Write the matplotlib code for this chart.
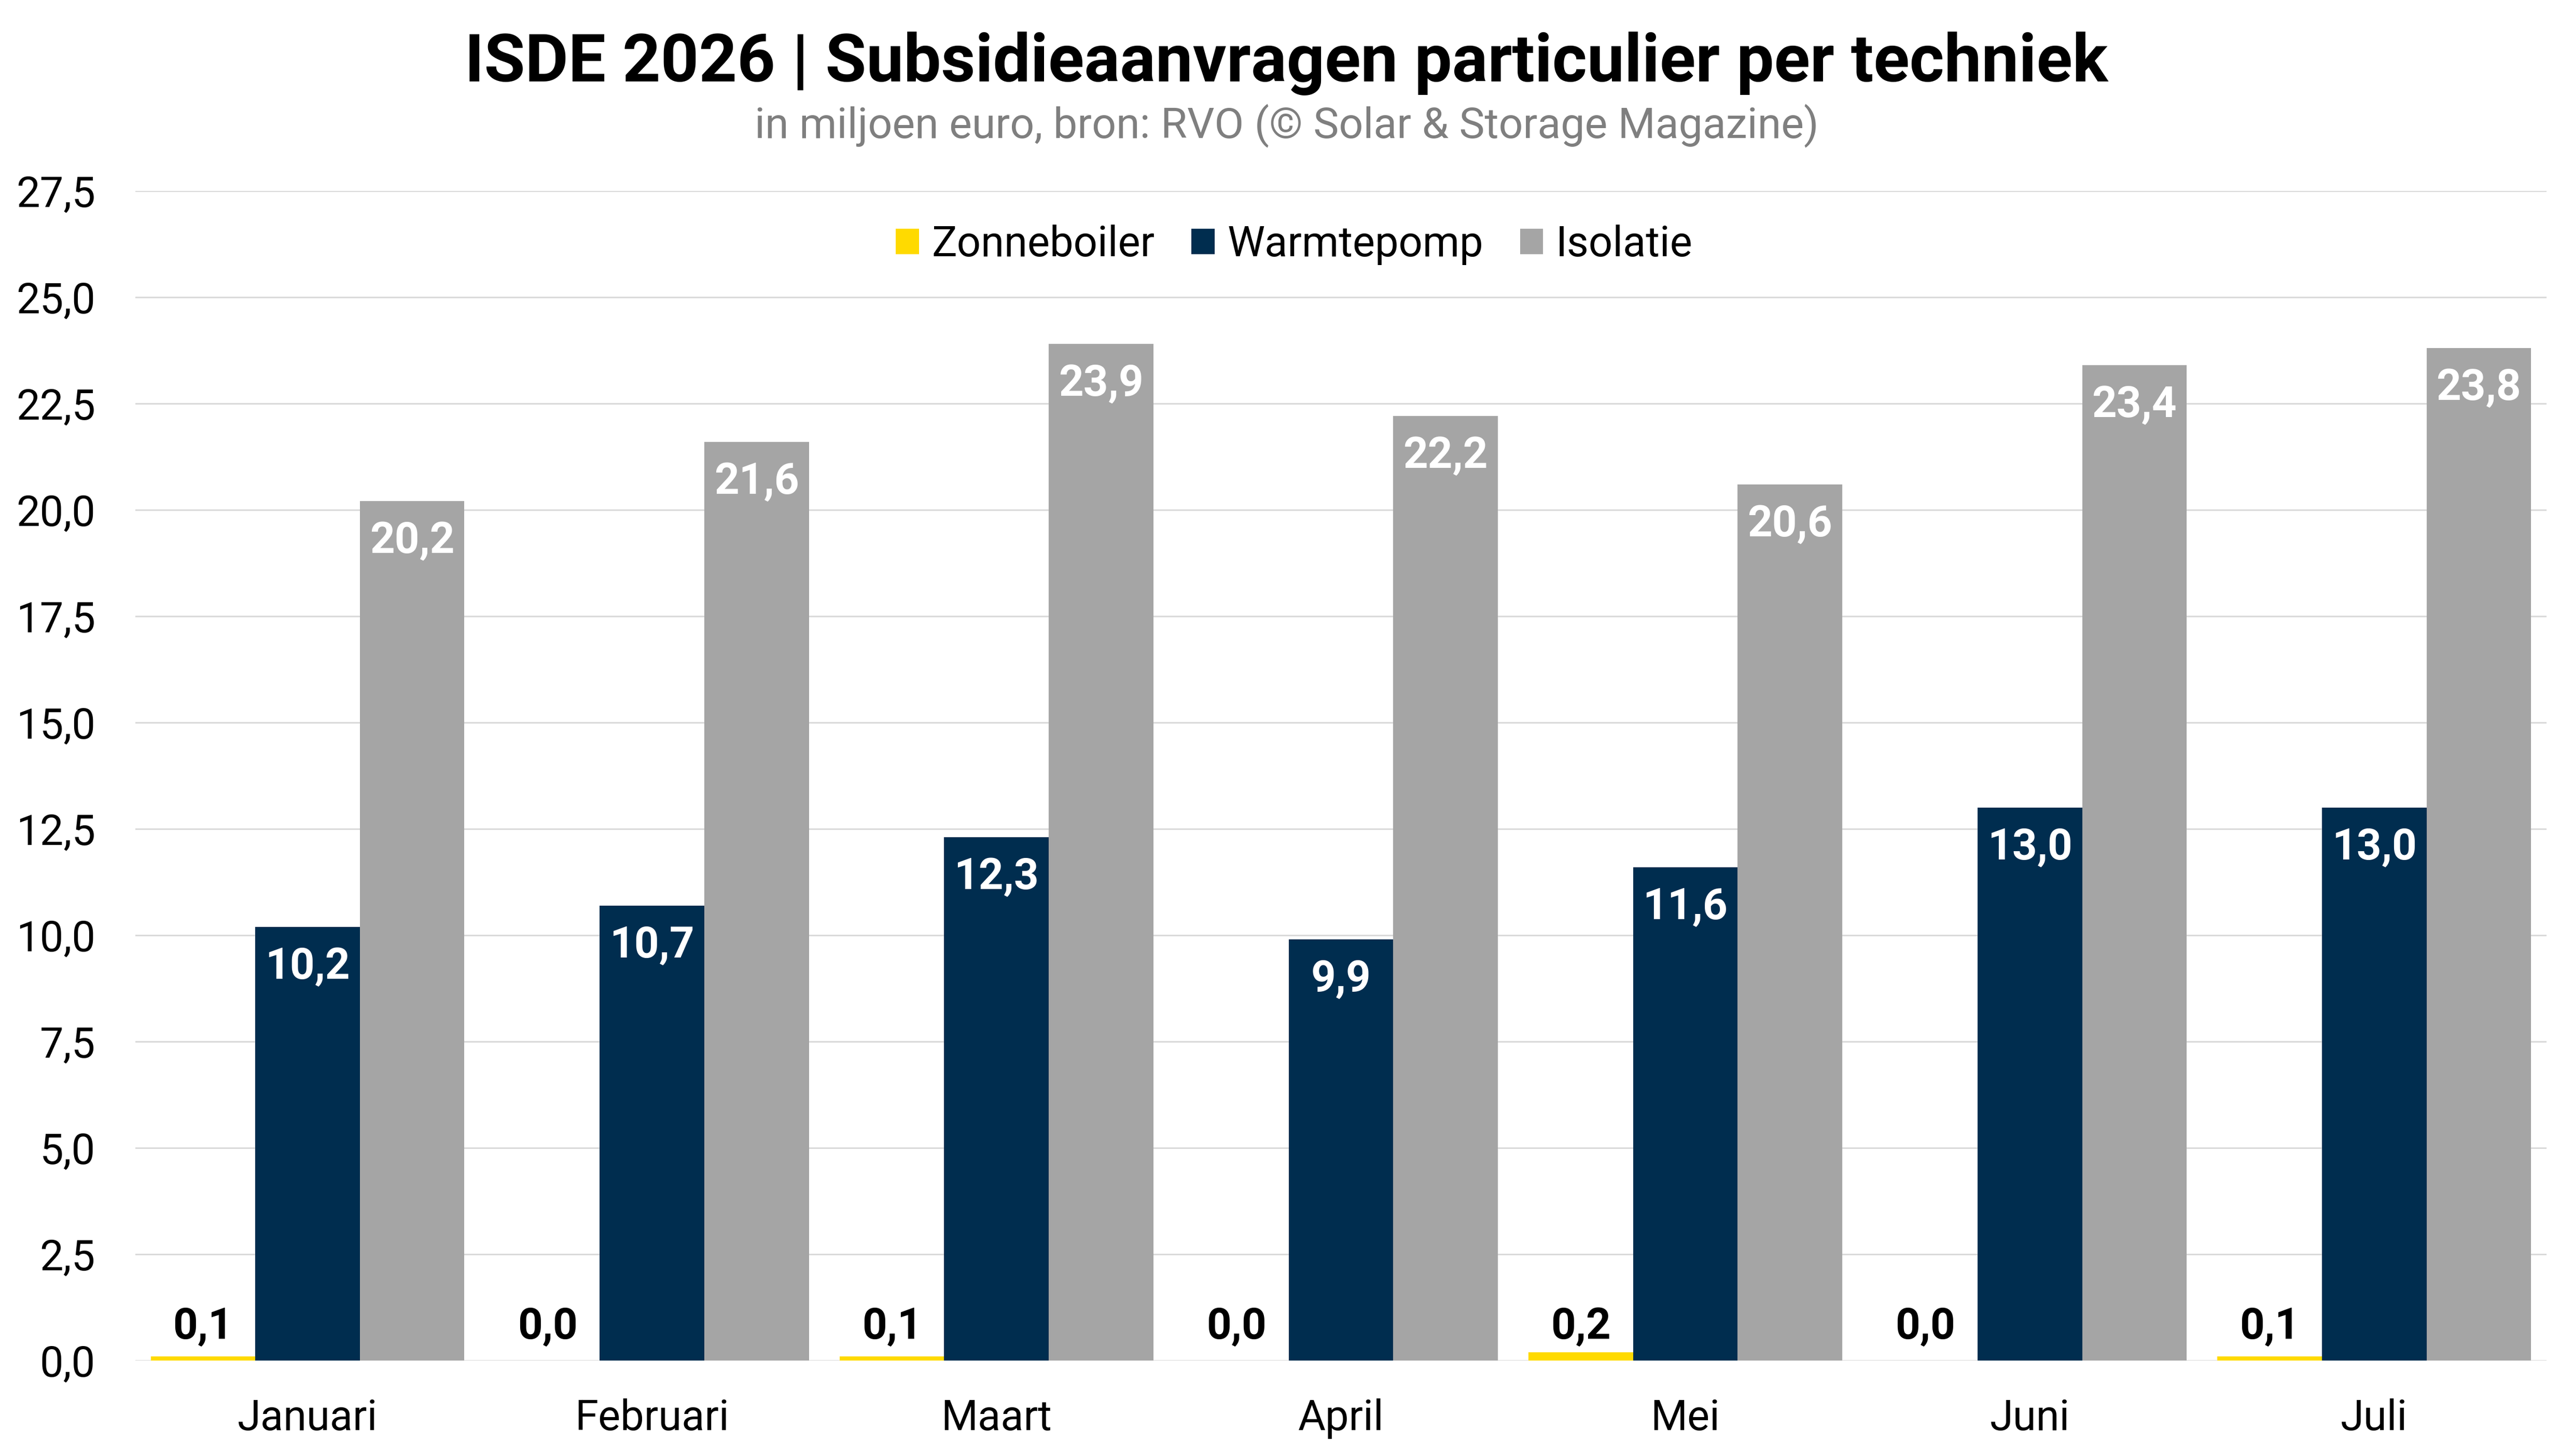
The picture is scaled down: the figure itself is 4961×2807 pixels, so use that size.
import matplotlib
matplotlib.use("Agg")
import matplotlib.pyplot as plt
from matplotlib.patches import Patch
from matplotlib.ticker import FuncFormatter, MultipleLocator
import numpy as np

plt.rcParams['font.family'] = ['Roboto', 'DejaVu Sans']

months = ["Januari", "Februari", "Maart", "April", "Mei", "Juni", "Juli"]
series_names = ["Zonneboiler", "Warmtepomp", "Isolatie"]
zonneboiler = [0.1, 0.0, 0.1, 0.0, 0.2, 0.0, 0.1]
warmtepomp = [10.2, 10.7, 12.3, 9.9, 11.6, 13.0, 13.0]
isolatie = [20.2, 21.6, 23.9, 22.2, 20.6, 23.4, 23.8]
colors = ["#FFDA00", "#002D4F", "#A5A5A5"]

title = "ISDE 2026 | Subsidieaanvragen particulier per techniek"
subtitle = "in miljoen euro, bron: RVO (© Solar & Storage Magazine)"

def fmt(v):
    return f"{v:.1f}".replace(".", ",")

W, H, DPI = 4961, 2807, 300
fig = plt.figure(figsize=(W / DPI, H / DPI), dpi=DPI)
ax = fig.add_axes([0.0526, 0.0655, 0.9897 - 0.0526, 0.869 - 0.0655])

x = np.arange(len(months))
bw = 0.3036
data = [zonneboiler, warmtepomp, isolatie]
for i, (vals, col) in enumerate(zip(data, colors)):
    bars = ax.bar(x + (i - 1) * bw, vals, width=bw, color=col, zorder=2, linewidth=0)
    for rect, v in zip(bars, vals):
        cx = rect.get_x() + rect.get_width() / 2
        top = rect.get_height()
        if i == 0:
            ax.annotate(fmt(v), (cx, rect.get_y()), xytext=(0, 10), textcoords="offset points",
                        ha="center", va="baseline", fontsize=20, fontweight="bold",
                        color="black")
        else:
            ax.annotate(fmt(v), (cx, top), xytext=(0, -24), textcoords="offset points",
                        ha="center", va="baseline", fontsize=20, fontweight="bold",
                        color="white")

ax.set_xlim(-0.5, len(months) - 0.5)
ax.set_ylim(0, 27.5)
ax.yaxis.set_major_locator(MultipleLocator(2.5))
ax.yaxis.set_major_formatter(FuncFormatter(lambda v, p: fmt(v)))
ax.set_xticks(x)
ax.set_xticklabels(months)
ax.tick_params(axis="both", length=0, labelsize=19.5, colors="black")
ax.tick_params(axis="x", pad=17.5)
ax.tick_params(axis="y", pad=18.5)
ax.grid(axis="y", color="#D9D9D9", linewidth=0.7, zorder=0)
ax.set_axisbelow(True)
for s in ax.spines.values():
    s.set_visible(False)

fig.text(0.5, 1 - 157 / H, title, ha="center", va="baseline", fontsize=30.8,
         fontweight="bold", color="black")
fig.text(0.5, 1 - 266 / H, subtitle, ha="center", va="baseline", fontsize=19.8,
         color="#7F7F7F")

handles = [Patch(facecolor=c, edgecolor="none", label=n) for c, n in zip(colors, series_names)]
fig.legend(handles=handles, loc="center", bbox_to_anchor=(0.503, 1 - 472 / H), ncol=3,
           frameon=False, fontsize=19.5, handlelength=0.55, handleheight=0.55,
           handletextpad=0.3, columnspacing=0.87, borderaxespad=0)

fig.savefig("out.png", dpi=DPI, facecolor="white")
